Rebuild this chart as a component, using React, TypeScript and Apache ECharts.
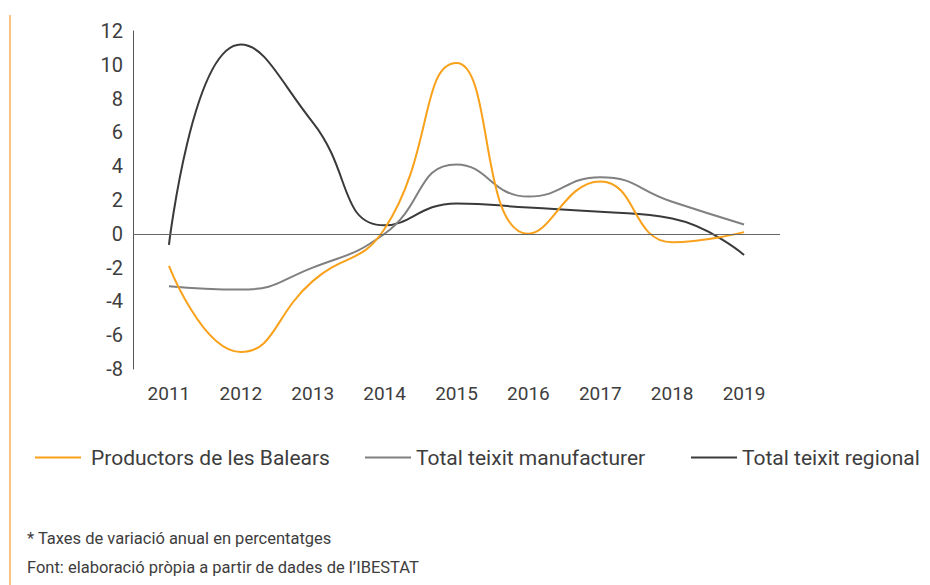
import React, { useEffect, useRef } from "react";
import * as echarts from "echarts";

const years = ["2011", "2012", "2013", "2014", "2015", "2016", "2017", "2018", "2019"];
const productorsBalears = [-1.9, -7.0, -2.8, 0.3, 10.1, 0.0, 3.1, -0.5, 0.1];
const totalManufacturer = [-3.1, -3.3, -2.0, 0.0, 4.1, 2.2, 3.35, 1.9, 0.55];
const totalRegional = [-0.65, 11.2, 6.6, 0.5, 1.8, 1.55, 1.3, 0.9, -1.25];
const seriesNames = ["Productors de les Balears", "Total teixit manufacturer", "Total teixit regional"];
const notes = ["* Taxes de variació anual en percentatges", "Font: elaboració pròpia a partir de dades de l’IBESTAT"];

const FONT = "Roboto";
const TXT = "#3d3d3d";
const COLORS = ["#f9a11b", "#808080", "#3a3a3a"];

export default function App() {
  const ref = useRef<HTMLDivElement>(null);
  useEffect(() => {
    if (!ref.current) return;
    const chart = echarts.init(ref.current, null, { renderer: "svg" });
    const data = [productorsBalears, totalManufacturer, totalRegional];
    const legendLefts = [35, 365, 691];
    chart.setOption({
      animation: false,
      textStyle: { fontFamily: FONT, color: TXT },
      grid: { left: 133, right: 150, top: 31, bottom: 216 },
      legend: seriesNames.map((n, i) => ({
        data: [n],
        left: legendLefts[i],
        top: 447,
        padding: 0,
        itemWidth: 46,
        itemHeight: 14,
        itemGap: 0,
        icon: "path://M0,6h46v2h-46z",
        textStyle: { fontFamily: FONT, fontSize: 21, color: TXT, padding: [0, 0, 0, i === 0 ? 5 : 0] },
      })),
      xAxis: {
        type: "category",
        data: years,
        boundaryGap: true,
        axisLine: { show: false },
        axisTick: { show: false },
        axisLabel: { color: TXT, fontSize: 19, fontFamily: FONT, margin: 15 },
      },
      yAxis: {
        type: "value",
        min: -8,
        max: 12,
        interval: 2,
        axisLine: { show: true, lineStyle: { color: "#555", width: 1 } },
        axisTick: { show: false },
        splitLine: { show: false },
        axisLabel: { color: TXT, fontSize: 20, fontFamily: FONT, margin: 10 },
      },
      series: data.map((d, i) => ({
        name: seriesNames[i],
        type: "line",
        data: d,
        smooth: 0.5,
        symbol: "none",
        lineStyle: { color: COLORS[i], width: 2 },
        itemStyle: { color: COLORS[i] },
        z: 3 - i,
        markLine:
          i === 0
            ? {
                silent: true,
                symbol: "none",
                label: { show: false },
                lineStyle: { color: "#666", width: 1, type: "solid" },
                data: [{ yAxis: 0 }],
              }
            : undefined,
      })),
      graphic: [
        { type: "line", shape: { x1: 10, y1: 15, x2: 10, y2: 585 }, style: { stroke: "#f7b05a", lineWidth: 1.5 } },
        ...notes.map((t, i) => ({
          type: "text",
          left: 27,
          top: 530 + i * 29,
          style: { text: t, fontFamily: FONT, fontSize: 16.5, fill: TXT },
        })),
      ],
    });
    return () => chart.dispose();
  }, []);
  return <div ref={ref} style={{ width: 930, height: 585, position: "absolute", left: 0, top: 0 }} />;
}
